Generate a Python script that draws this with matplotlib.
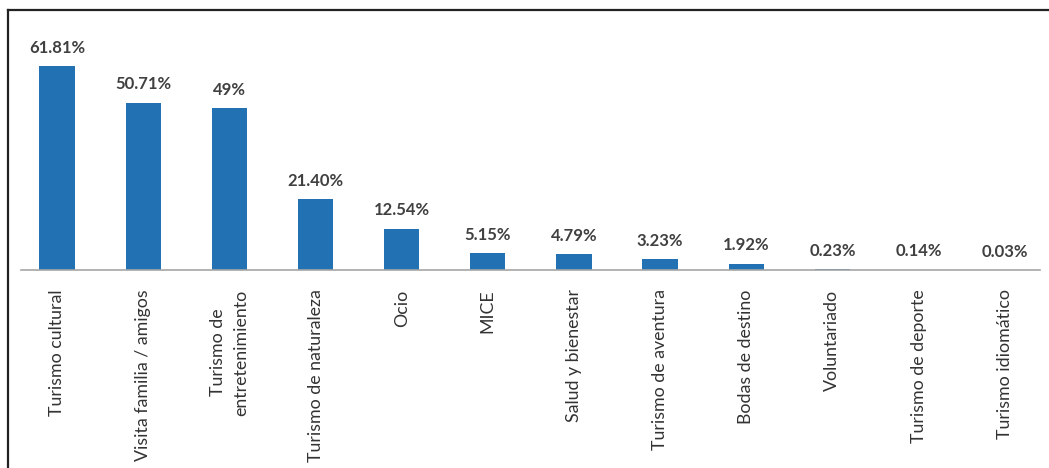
import matplotlib
matplotlib.use("Agg")
import matplotlib.pyplot as plt
from matplotlib.lines import Line2D

categories = ["Turismo cultural", "Visita familia / amigos", "Turismo de\nentretenimiento",
              "Turismo de naturaleza", "Ocio", "MICE", "Salud y bienestar",
              "Turismo de aventura", "Bodas de destino", "Voluntariado",
              "Turismo de deporte", "Turismo idiomático"]
values = [61.81, 50.71, 49.0, 21.40, 12.54, 5.15, 4.79, 3.23, 1.92, 0.23, 0.14, 0.03]
value_labels = ["61.81%", "50.71%", "49%", "21.40%", "12.54%", "5.15%", "4.79%",
                "3.23%", "1.92%", "0.23%", "0.14%", "0.03%"]

plt.rcParams['font.family'] = ['Lato', 'DejaVu Sans']

fig = plt.figure(figsize=(10.49, 4.68), dpi=100)
ax = fig.add_axes([0.02, 0.423, 0.9714, 0.4936])

x = range(len(categories))
bars = ax.bar(x, values, width=0.41, color='#2271b3')

for b, lab in zip(bars, value_labels):
    ax.annotate(lab, (b.get_x() + b.get_width() / 2, b.get_height()),
                xytext=(0, 7.5), textcoords='offset points',
                ha='center', va='bottom', fontsize=12, fontweight='bold', color='#404040')

ax.set_xlim(-0.42, 11.41)
ax.set_ylim(0, 70)
ax.set_xticks(list(x))
ax.set_xticklabels(categories, rotation=90, fontsize=12.8, color='#333333',
                   ha='center', va='top', linespacing=1.6)
ax.tick_params(axis='x', length=0, pad=14)
ax.set_yticks([])
for s in ['top', 'right', 'left']:
    ax.spines[s].set_visible(False)
ax.spines['bottom'].set_color('#a6a6a6')
ax.spines['bottom'].set_linewidth(1.2)

# outer frame (left and top edges visible)
fig.add_artist(Line2D([0.008, 0.008], [0.0, 0.978], color='#222222', lw=1.6))
fig.add_artist(Line2D([0.008, 1.0], [0.978, 0.978], color='#222222', lw=1.6))

fig.savefig("out.png", dpi=100)
